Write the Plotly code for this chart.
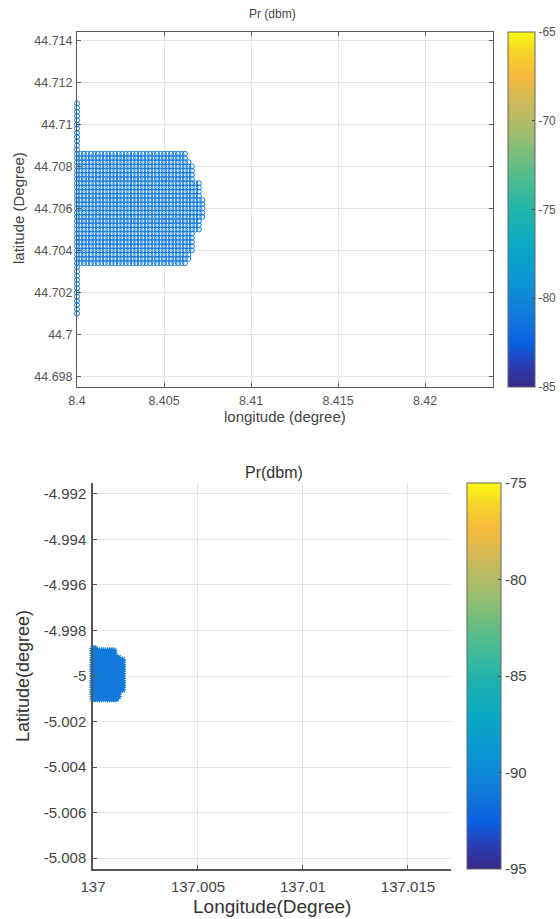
import plotly.graph_objects as go

# ---------------- data ----------------
# Top chart: measurement grid, rows of latitude, each row filled from lon 8.4 eastward
top_lon_cols = [8.4000, 8.4002, 8.4004, 8.4006, 8.4008, 8.4010, 8.4012, 8.4014,
                8.4016, 8.4018, 8.4020, 8.4022, 8.4024, 8.4026, 8.4028, 8.4030,
                8.4032, 8.4034, 8.4036, 8.4038, 8.4040, 8.4042, 8.4044, 8.4046,
                8.4048, 8.4050, 8.4052, 8.4054, 8.4056, 8.4058, 8.4060, 8.4062,
                8.4064, 8.4066, 8.4068, 8.4070, 8.4072]
top_row_lat = [44.7110, 44.7108, 44.7106, 44.7104, 44.7102, 44.7100, 44.7098, 44.7096,
               44.7094, 44.7092, 44.7090, 44.7088,
               44.7086, 44.7084, 44.7082, 44.7080, 44.7078, 44.7076, 44.7074, 44.7072,
               44.7070, 44.7068, 44.7066, 44.7064, 44.7062, 44.7060, 44.7058, 44.7056,
               44.7054, 44.7052, 44.7050, 44.7048, 44.7046, 44.7044, 44.7042, 44.7040,
               44.7038, 44.7036, 44.7034,
               44.7032, 44.7030, 44.7028, 44.7026, 44.7024, 44.7022, 44.7020, 44.7018,
               44.7016, 44.7014, 44.7012, 44.7010]
top_row_ncols = [1, 1, 1, 1, 1, 1, 1, 1, 1, 1, 1, 1,
                 32, 32, 33, 34, 34, 34, 34, 36, 36, 36, 36, 37, 37, 37, 37, 37,
                 36, 36, 36, 34, 34, 34, 34, 34, 33, 33, 32,
                 1, 1, 1, 1, 1, 1, 1, 1, 1, 1, 1, 1]
top_pr_dbm = -81.0

top_xticks = [8.4, 8.405, 8.41, 8.415, 8.42]
top_xlabels = ["8.4", "8.405", "8.41", "8.415", "8.42"]
top_yticks = [44.698, 44.7, 44.702, 44.704, 44.706, 44.708, 44.71, 44.712, 44.714]
top_ylabels = ["44.698", "44.7", "44.702", "44.704", "44.706", "44.708", "44.71", "44.712", "44.714"]
top_cticks = [-85, -80, -75, -70, -65]
top_clabels = ["-85", "-80", "-75", "-70", "-65"]

# Bottom chart
bot_lon_cols = [137.0000, 137.0001, 137.0002, 137.0003, 137.0004, 137.0005, 137.0006,
                137.0007, 137.0008, 137.0009, 137.0010, 137.0011, 137.0012, 137.0013,
                137.0014]
bot_row_lat = [-4.9988, -4.9989, -4.9990, -4.9991, -4.9992, -4.9993, -4.9994, -4.9995,
               -4.9996, -4.9997, -4.9998, -4.9999, -5.0000, -5.0001, -5.0002, -5.0003,
               -5.0004, -5.0005, -5.0006, -5.0007, -5.0008, -5.0009, -5.0010]
bot_row_ncols = [2, 11, 11, 11, 13, 15, 15, 15, 15, 15, 15, 15, 15, 15, 15, 15,
                 15, 15, 15, 13, 13, 13, 12]
bot_pr_dbm = -91.0

bot_xticks = [137.0, 137.005, 137.01, 137.015]
bot_xlabels = ["137", "137.005", "137.01", "137.015"]
bot_yticks = [-5.008, -5.006, -5.004, -5.002, -5.0, -4.998, -4.996, -4.994, -4.992]
bot_ylabels = ["-5.008", "-5.006", "-5.004", "-5.002", "-5", "-4.998", "-4.996", "-4.994", "-4.992"]
bot_cticks = [-95, -90, -85, -80, -75]
bot_clabels = ["-95", "-90", "-85", "-80", "-75"]

# ---------------- figure ----------------
W, H = 560, 919
FONT = "Liberation Sans, Arial, sans-serif"

parula = [
    [0.00, "rgb(53,42,135)"],
    [0.06, "rgb(45,60,180)"],
    [0.12, "rgb(10,95,225)"],
    [0.20, "rgb(18,122,218)"],
    [0.30, "rgb(10,150,210)"],
    [0.40, "rgb(8,170,195)"],
    [0.50, "rgb(35,180,170)"],
    [0.60, "rgb(85,189,140)"],
    [0.70, "rgb(150,190,112)"],
    [0.80, "rgb(205,185,90)"],
    [0.88, "rgb(247,185,60)"],
    [0.95, "rgb(248,215,40)"],
    [1.00, "rgb(249,251,14)"],
]

top_x, top_y = [], []
for lat, n in zip(top_row_lat, top_row_ncols):
    for lon in top_lon_cols[:n]:
        top_x.append(lon)
        top_y.append(lat)

bot_x, bot_y = [], []
for lat, n in zip(bot_row_lat, bot_row_ncols):
    for lon in bot_lon_cols[:n]:
        bot_x.append(lon)
        bot_y.append(lat)

fig = go.Figure()
fig.add_trace(go.Scatter(
    x=top_x, y=top_y, mode="markers", xaxis="x", yaxis="y",
    marker=dict(symbol="circle-open", size=5, color=[top_pr_dbm] * len(top_x),
                coloraxis="coloraxis", line=dict(width=1)),
    cliponaxis=False, showlegend=False, hoverinfo="skip"))
fig.add_trace(go.Scatter(
    x=bot_x, y=bot_y, mode="markers", xaxis="x2", yaxis="y2",
    marker=dict(symbol="asterisk-open", size=6, color=[bot_pr_dbm] * len(bot_x),
                coloraxis="coloraxis2", line=dict(width=1.2)),
    cliponaxis=False, showlegend=False, hoverinfo="skip"))

def px_x(a, b):
    return [a / W, b / W]

def px_y(top, bottom):
    return [1 - bottom / H, 1 - top / H]

grid = "#e4e4e4"
top_axis_common = dict(showgrid=True, gridcolor=grid, gridwidth=1, zeroline=False,
                       showline=True, linecolor="#5a5a5a", linewidth=1, mirror="ticks",
                       ticks="inside", ticklen=4, tickcolor="#5a5a5a", automargin=False,
                       tickfont=dict(family=FONT, size=12.5, color="#555555"))
bot_axis_common = dict(showgrid=True, gridcolor=grid, gridwidth=1, zeroline=False,
                       showline=True, linecolor="#555555", linewidth=1.5, mirror=False,
                       ticks="inside", ticklen=4, tickcolor="#555555", automargin=False,
                       tickfont=dict(family=FONT, size=15, color="#444444"))

fig.update_layout(
    width=W, height=H, margin=dict(l=0, r=0, t=0, b=0, autoexpand=False),
    paper_bgcolor="white", plot_bgcolor="white",
    xaxis=dict(domain=px_x(77, 493), anchor="y", range=[8.4, 8.4239],
               tickvals=top_xticks, ticktext=top_xlabels, ticklabelstandoff=2,
               **top_axis_common),
    yaxis=dict(domain=px_y(32, 387), anchor="x", range=[44.6975, 44.7144],
               tickvals=top_yticks, ticktext=top_ylabels, ticklabelstandoff=1,
               **top_axis_common),
    xaxis2=dict(domain=px_x(93, 451), anchor="y2", range=[137.0, 137.01705],
                tickvals=bot_xticks, ticktext=bot_xlabels, ticklabelstandoff=3,
                **bot_axis_common),
    yaxis2=dict(domain=px_y(483, 869), anchor="x2", range=[-5.00848, -4.99152],
                tickvals=bot_yticks, ticktext=bot_ylabels, ticklabelstandoff=2,
                **bot_axis_common),
    coloraxis=dict(cmin=-85, cmax=-65, colorscale=parula,
                   colorbar=dict(x=508 / W, xanchor="left", xpad=0, ypad=0,
                                 y=1 - 209.5 / H, yanchor="middle",
                                 lenmode="pixels", len=355, thickness=27,
                                 outlinewidth=1, outlinecolor="#666666",
                                 tickvals=top_cticks, ticktext=top_clabels,
                                 ticks="inside", ticklen=3, tickcolor="#444444",
                                 tickfont=dict(family=FONT, size=12, color="#555555"))),
    coloraxis2=dict(cmin=-95, cmax=-75, colorscale=parula,
                    colorbar=dict(x=467 / W, xanchor="left", xpad=0, ypad=0,
                                  y=1 - 676 / H, yanchor="middle",
                                  lenmode="pixels", len=386, thickness=34,
                                  outlinewidth=1, outlinecolor="#666666",
                                  tickvals=bot_cticks, ticktext=bot_clabels,
                                  ticks="inside", ticklen=3, tickcolor="#444444",
                                  tickfont=dict(family=FONT, size=15, color="#444444"))),
)

def ann(text, x, y, size, color="#333333", angle=0):
    fig.add_annotation(text=text, x=x / W, y=1 - y / H, xref="paper", yref="paper",
                       showarrow=False, textangle=angle, xanchor="center", yanchor="middle",
                       font=dict(family=FONT, size=size, color=color))

ann("Pr (dbm)", 272, 14, 12, "#444444")
ann("longitude (degree)", 285, 416, 15, "#444444")
ann("latitude (Degree)", 18, 208, 15, "#444444", -90)
ann("Pr(dbm)", 274, 472, 16, "#333333")
ann("Longitude(Degree)", 272, 906, 19, "#333333")
ann("Latitude(degree)", 23, 676, 18, "#333333", -90)

fig.write_html("out.html",
               config={"displayModeBar": False},
               post_script="document.body.style.margin='0px';"
                           "document.body.style.overflow='hidden';")
